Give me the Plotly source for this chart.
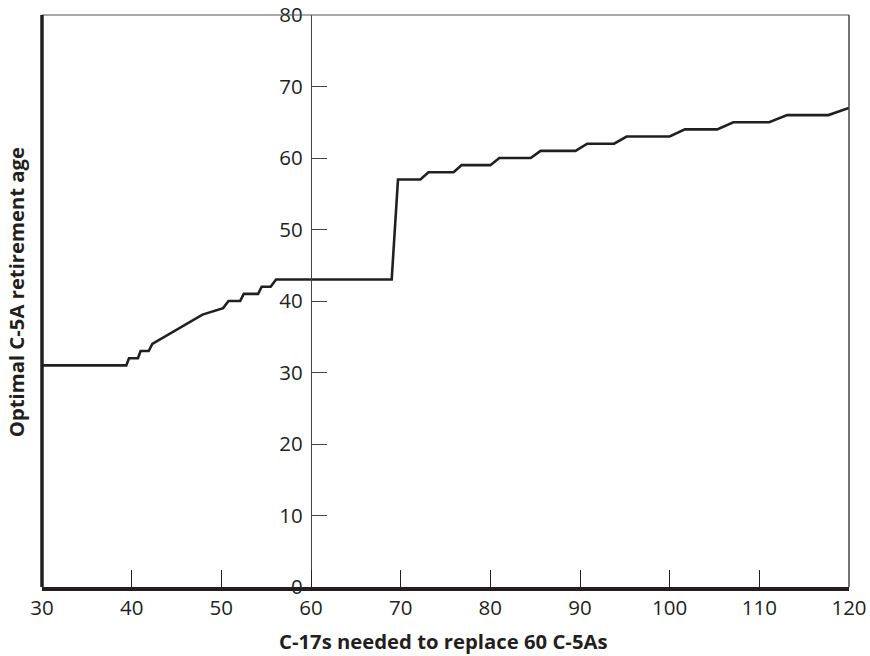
import plotly.graph_objects as go

# Data
c17_needed = [30, 39.4, 39.7, 40.7, 41.0, 41.9, 42.3, 47.9, 50.2, 50.8, 52.1, 52.5,
              54.1, 54.5, 55.5, 56.1, 69.0, 69.7, 72.2, 73.1, 75.9, 76.8, 80.0, 81.0,
              84.5, 85.6, 89.5, 90.8, 93.8, 95.2, 100.0, 101.7, 105.3, 107.1, 111.1,
              113.1, 117.7, 120]
retirement_age = [31, 31, 32, 32, 33, 33, 34, 38.1, 39, 40, 40, 41, 41, 42, 42, 43,
                  43, 57, 57, 58, 58, 59, 59, 60, 60, 61, 61, 62, 62, 63, 63, 64, 64,
                  65, 65, 66, 66, 67]
x_ticks = [30, 40, 50, 60, 70, 80, 90, 100, 110, 120]
y_ticks = [0, 10, 20, 30, 40, 50, 60, 70, 80]

INK = "#231f20"
FONT = "Open Sans"

fig = go.Figure()
fig.add_trace(go.Scatter(
    x=c17_needed, y=retirement_age, mode="lines",
    line=dict(color=INK, width=2.6), hoverinfo="skip", showlegend=False,
))

fig.update_layout(
    width=870, height=656,
    margin=dict(l=41.6, r=20.7, t=14.8, b=69.3),
    paper_bgcolor="white", plot_bgcolor="white",
    font=dict(family=FONT, color=INK, size=20),
    showlegend=False,
    xaxis=dict(
        range=[30, 120], tickvals=x_ticks, showgrid=False, zeroline=False,
        automargin=False, ticklabeloverflow="allow",
        showline=True, linecolor=INK, linewidth=3.5,
        ticks="inside", ticklen=17, tickwidth=1.2, tickcolor=INK,
        ticklabelstandoff=0,
        tickfont=dict(size=20.5, family=FONT, color=INK),
    ),
    yaxis=dict(
        range=[0, 80], tickvals=y_ticks, showgrid=False, zeroline=False,
        automargin=False, ticklabeloverflow="allow",
        anchor="free", position=1/3,
        showline=True, linecolor="#444444", linewidth=1.2,
        ticks="inside", ticklen=15, tickwidth=1.2, tickcolor="#444444",
        ticklabelstandoff=4,
        tickfont=dict(size=20.5, family=FONT, color=INK),
    ),
    shapes=[
        # thin frame on top and right
        dict(type="line", xref="paper", yref="paper", x0=0, x1=1, y0=1, y1=1,
             line=dict(color="#555555", width=1.2)),
        dict(type="line", xref="paper", yref="paper", x0=1, x1=1, y0=0, y1=1,
             line=dict(color="#444444", width=1.5)),
        # thick left border
        dict(type="line", xref="paper", yref="paper", x0=0, x1=0, y0=0, y1=1,
             line=dict(color=INK, width=3.5)),
    ],
    annotations=[
        dict(text="<b>Optimal C-5A retirement age</b>", xref="paper", yref="paper",
             x=-0.033, y=0.516, xanchor="center", yanchor="middle", textangle=-90,
             showarrow=False, font=dict(size=20.3, family=FONT, color=INK)),
        dict(text="<b>C-17s needed to replace 60 C-5As</b>", xref="paper", yref="paper",
             x=0.498, y=-0.095, xanchor="center", yanchor="middle",
             showarrow=False, font=dict(size=20.3, family=FONT, color=INK)),
    ],
)

fig.write_html(
    "out.html",
    config={"displayModeBar": False},
    post_script="document.body.style.margin='0';document.body.style.overflow='hidden';",
)
